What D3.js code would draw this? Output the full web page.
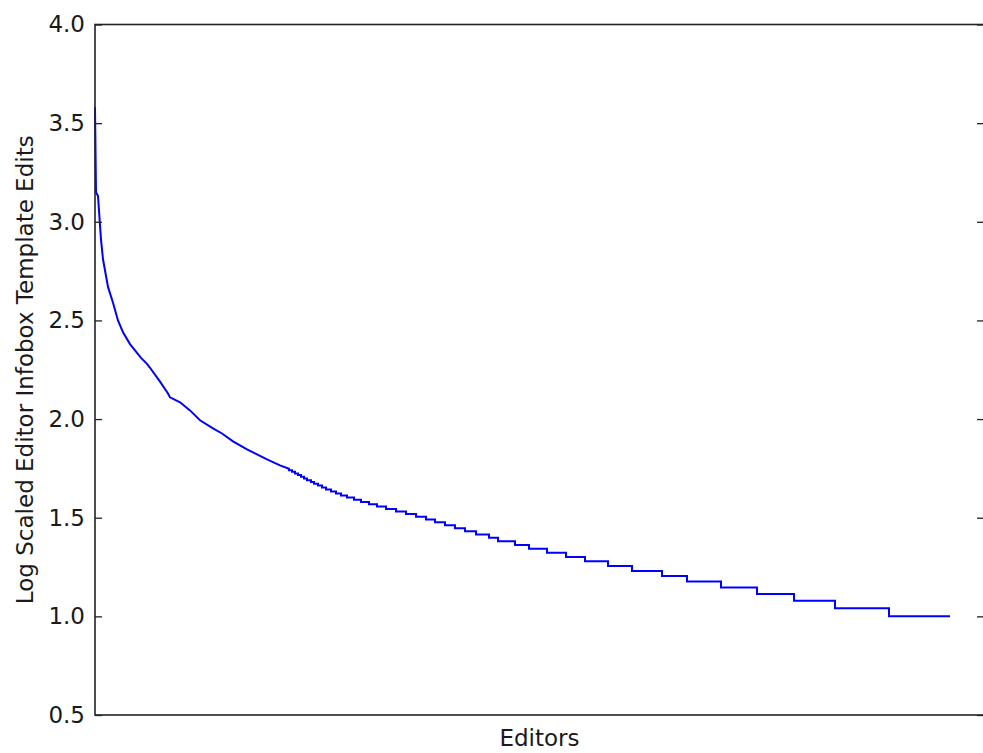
<!DOCTYPE html>
<html>
<head>
<meta charset="utf-8">
<script src="https://cdn.jsdelivr.net/npm/d3@7"></script>
<style>
  html, body { margin: 0; padding: 0; background: #fff; }
  svg { display: block; }
  text { font-family: "DejaVu Sans", sans-serif; fill: #1a1a1a; }
</style>
</head>
<body>
<script>
// ---- Data ----
// Top editors (rank, log10 edits)
const headRanks  = [0, 1, 3, 6, 8, 13, 18, 23, 28, 35, 46, 52, 55, 65, 73, 75, 85, 95, 105, 118, 127, 138, 152, 172, 185, 194];
const headLogs   = [3.58, 3.15, 3.13, 2.91, 2.81, 2.67, 2.59, 2.50, 2.44, 2.38, 2.31, 2.28, 2.26, 2.19, 2.13, 2.11, 2.085, 2.044, 1.994, 1.953, 1.927, 1.887, 1.846, 1.796, 1.765, 1.748];
// Tail: integer edit counts and number of editors at each count
const tailEdits   = [55, 54, 53, 52, 51, 50, 49, 48, 47, 46, 45, 44, 43, 42, 41, 40, 39, 38, 37, 36, 35, 34, 33, 32, 31, 30, 29, 28, 27, 26, 25, 24, 23, 22, 21, 20, 19, 18, 17, 16, 15, 14, 13, 12, 11, 10];
const tailEditors = [3, 3, 3, 3, 3, 3, 4, 3, 4, 4, 4, 5, 5, 5, 6, 7, 7, 8, 8, 9, 10, 10, 10, 10, 9, 10, 10, 10, 11, 13, 9, 17, 14, 18, 19, 19, 23, 24, 30, 25, 34, 36, 37, 41, 54, 61];
const yTicks = [0.5, 1.0, 1.5, 2.0, 2.5, 3.0, 3.5, 4.0];
const xDomain = [0, 889];
const yDomain = [0.5, 4.0];

// ---- Build series ----
const pts = headRanks.map((r, i) => [r, headLogs[i]]);
let rank = headRanks[headRanks.length - 1];
tailEdits.forEach((e, i) => {
  const v = Math.log10(e);
  pts.push([rank, v]);
  rank += tailEditors[i];
  pts.push([rank, v]);
});

// ---- Layout ----
const W = 983, H = 753;
const L = 95, T = 24.5, R = 984, B = 715;
const FS = "23px";

const svg = d3.select("body").append("svg").attr("width", W).attr("height", H);

const x = d3.scaleLinear().domain(xDomain).range([L, R]);
const y = d3.scaleLinear().domain(yDomain).range([B, T]);

// Line
svg.append("path")
  .datum(pts)
  .attr("fill", "none")
  .attr("stroke", "#0000ff")
  .attr("stroke-width", 2)
  .attr("stroke-linejoin", "miter")
  .attr("d", d3.line().x(d => x(d[0])).y(d => y(d[1])));

// Left axis (ticks inward, labels outside)
const yAxisL = d3.axisLeft(y).tickValues(yTicks).tickFormat(d3.format(".1f")).tickSize(-7).tickPadding(10);
const gL = svg.append("g").attr("transform", `translate(${L},0)`).call(yAxisL);
gL.select(".domain").remove();
gL.selectAll(".tick line").attr("stroke", "#222").attr("stroke-width", 1.3);
gL.selectAll(".tick text").style("font-size", FS).style("font-family", "DejaVu Sans, sans-serif").attr("fill", "#1a1a1a");

// Right axis ticks (inward, no labels)
const yAxisR = d3.axisRight(y).tickValues(yTicks).tickFormat("").tickSize(-7);
const gR = svg.append("g").attr("transform", `translate(${R},0)`).call(yAxisR);
gR.select(".domain").remove();
gR.selectAll(".tick line").attr("stroke", "#222").attr("stroke-width", 1.3);

// Frame
svg.append("rect")
  .attr("x", L).attr("y", T).attr("width", R - L).attr("height", B - T)
  .attr("fill", "none").attr("stroke", "#222").attr("stroke-width", 1.6);

// Axis titles
svg.append("text")
  .attr("x", (L + R) / 2).attr("y", 746)
  .attr("text-anchor", "middle")
  .style("font-size", FS)
  .text("Editors");

svg.append("text")
  .attr("transform", `translate(33,${(T + B) / 2}) rotate(-90)`)
  .attr("text-anchor", "middle")
  .style("font-size", FS)
  .text("Log Scaled Editor Infobox Template Edits");
</script>
</body>
</html>
